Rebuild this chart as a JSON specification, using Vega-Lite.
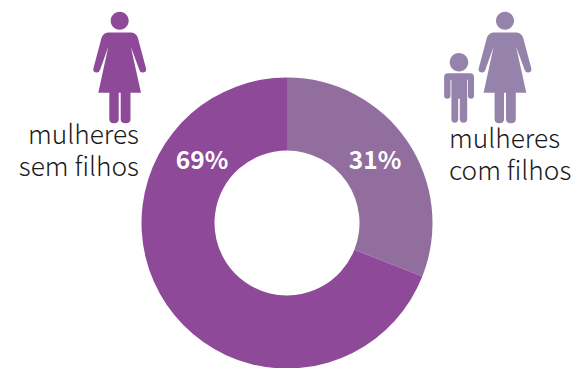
{
  "$schema": "https://vega.github.io/schema/vega-lite/v6.json",
  "width": 292,
  "height": 290,
  "autosize": "none",
  "padding": {"left": 141, "top": 78, "right": 153, "bottom": 0},
  "background": "white",
  "config": {"view": {"stroke": null}},
  "data": {"values": [
    {"grupo": "mulheres\ncom filhos", "percentual": 31, "rotulo": "31%"},
    {"grupo": "mulheres\nsem filhos", "percentual": 69, "rotulo": "69%"}
  ]},
  "layer": [
    {
      "mark": {"type": "arc", "innerRadius": 72.5, "outerRadius": 145.5},
      "encoding": {
        "theta": {"field": "percentual", "type": "quantitative", "stack": true},
        "order": {"field": "percentual", "type": "quantitative"},
        "color": {"field": "grupo", "type": "nominal", "legend": null,
          "scale": {"domain": ["mulheres\ncom filhos", "mulheres\nsem filhos"], "range": ["#916E9E", "#8E4A98"]}}
      }
    },
    {
      "transform": [{"filter": "datum.percentual == 31"}],
      "mark": {"type": "text", "dx": 88, "dy": -61, "align": "center", "baseline": "middle", "font": "Noto Sans CJK JP", "fontWeight": "bold", "fontSize": 24.5, "color": "white"},
      "encoding": {"text": {"field": "rotulo"}}
    },
    {
      "transform": [{"filter": "datum.percentual == 69"}],
      "mark": {"type": "text", "dx": -85, "dy": -61, "align": "center", "baseline": "middle", "font": "Noto Sans CJK JP", "fontWeight": "bold", "fontSize": 24.5, "color": "white"},
      "encoding": {"text": {"field": "rotulo"}}
    },
    {
      "transform": [{"filter": "datum.percentual == 69"}],
      "mark": {"type": "text", "dx": -148, "dy": -79, "align": "right", "baseline": "alphabetic", "font": "Noto Sans CJK JP", "fontWeight": 300, "fontSize": 26.3, "color": "#1a1a1a", "lineBreak": "\n", "lineHeight": 32},
      "encoding": {"text": {"field": "grupo"}}
    },
    {
      "transform": [{"filter": "datum.percentual == 31"}],
      "mark": {"type": "text", "dx": 162, "dy": -75, "align": "left", "baseline": "alphabetic", "font": "Noto Sans CJK JP", "fontWeight": 300, "fontSize": 26.3, "color": "#1a1a1a", "lineBreak": "\n", "lineHeight": 32},
      "encoding": {"text": {"field": "grupo"}}
    },
    {
      "transform": [{"filter": "datum.percentual == 69"}],
      "mark": {"type": "point", "filled": true, "size": 4, "opacity": 1, "color": "#8E4A98", "strokeWidth": 0,
        "shape": "M-176.3 -202.3a9 9 0 1 0 18 0a9 9 0 1 0 -18 0zM-179 -190.5h23.4q5 .5 6.5 5.5l8 30q1 4 -2.5 4.5q-3 .5 -4 -2.5l-8.6 -23.3l10.2 46h-10.5v26.3q0 4.3 -4.9 4.3q-4.9 0 -4.9 -4.3v-26.3h-2v26.3q0 4.3 -4.7 4.3q-4.7 0 -4.7 -4.3v-26.3h-11l10 -46l-8.3 23.3q-1 3 -4 2.5q-3.5 -.5 -2.5 -4.5l8 -30q1.5 -5 6.5 -5.5z"},
      "encoding": {}
    },
    {
      "transform": [{"filter": "datum.percentual == 31"}],
      "mark": {"type": "point", "filled": true, "size": 4, "opacity": 1, "color": "#9683AC", "strokeWidth": 0,
        "shape": "M209 -202.3a9 9 0 1 0 18 0a9 9 0 1 0 -18 0zM206.3 -190.5h23.4q5 .5 6.5 5.5l8 30q1 4 -2.5 4.5q-3 .5 -4 -2.5l-8.6 -23.3l10.2 46h-10.5v26.3q0 4.3 -4.9 4.3q-4.9 0 -4.9 -4.3v-26.3h-2v26.3q0 4.3 -4.7 4.3q-4.7 0 -4.7 -4.3v-26.3h-11l10 -46l-8.3 23.3q-1 3 -4 2.5q-3.5 -.5 -2.5 -4.5l8 -30q1.5 -5 6.5 -5.5zM162.7 -160.7a9.3 9.3 0 1 0 18.6 0a9.3 9.3 0 1 0 -18.6 0zM161 -149.7h22q4 0 4 4v18.5q0 3 -3 3q-3 0 -3 -3v-16h-.8v39q0 3.9 -3.7 3.9q-3.7 0 -3.7 -3.9v-20h-1.6v20q0 3.9 -3.4 3.9q-3.4 0 -3.4 -3.9v-39h-.9v16q0 3 -3.2 3q-3.2 0 -3.2 -3v-18.5q0 -4 4 -4z"},
      "encoding": {}
    }
  ]
}
